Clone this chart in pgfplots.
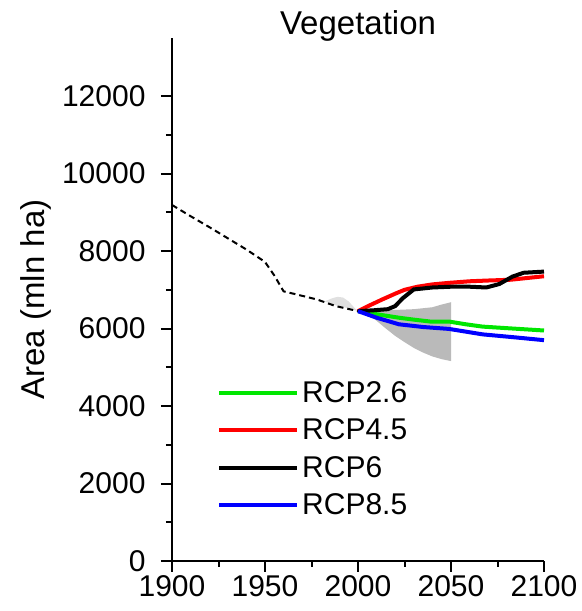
\documentclass[border=0pt]{standalone}
\usepackage{fontspec}
\setmainfont{Liberation Sans}
\usepackage{pgfplots}
\pgfplotsset{compat=1.18}
\begin{document}
\begin{tikzpicture}
\useasboundingbox (0,0) rectangle (582bp,611bp);
\begin{axis}[
  at={(172bp,50bp)}, anchor=south west,
  scale only axis, width=372bp, height=523bp,
  xmin=1900, xmax=2100, ymin=0, ymax=13500,
  axis x line*=bottom, axis y line*=left,
  axis line style={line width=2.5bp},
  tick align=outside,
  major tick length=11bp, minor tick length=6bp,
  every tick/.style={black, line width=2bp},
  xtick={1900,1950,2000,2050,2100},
  ytick={0,2000,4000,6000,8000,10000,12000},
  minor x tick num=1, minor y tick num=1,
  scaled ticks=false,
  /pgf/number format/assume math mode=true,
  /pgf/number format/1000 sep={},
  tick label style={font=\fontsize{30bp}{36bp}\selectfont},
  yticklabel style={xshift=-12bp},
  title={Vegetation},
  title style={at={(axis description cs:0.5,1)}, anchor=base, yshift=-2bp, font=\fontsize{33bp}{40bp}\selectfont},
  ylabel={Area (mln ha)},
  ylabel style={at={(axis description cs:-0.3656,0.5)}, anchor=center, font=\fontsize{33bp}{40bp}\selectfont},
  legend cell align=left,
  legend image code/.code={\draw[#1, line width=4bp] (0bp,0bp) -- (78bp,0bp);},
  legend style={draw=none, fill=none, inner sep=0pt, at={(axis cs:1924.2,4636)}, anchor=north west,
    font=\fontsize{30bp}{36bp}\selectfont, row sep=15bp,
    nodes={inner xsep=3bp, inner ysep=0bp}},
]
% projection uncertainty band
\addplot[fill=black!27, draw=none, forget plot] coordinates {
 (2000,6450) (2010,6470) (2020,6480) (2030,6500) (2040,6550) (2045,6620) (2050,6680)
 (2050,5160) (2045,5210) (2040,5280) (2035,5380) (2030,5500) (2025,5650) (2020,5810)
 (2015,6000) (2010,6200) (2005,6400) (2000,6450)} -- cycle;
% historical uncertainty
\addplot[fill=black!12, draw=none, forget plot] coordinates {
 (1982,6700) (1986,6780) (1989,6820) (1992,6800) (1995,6700) (1998,6540) (2000,6450)
 (1995,6520) (1988,6600) (1982,6700)} -- cycle;
% historical
\addplot[black, line width=2bp, dash pattern=on 6bp off 4bp, forget plot] coordinates {
 (1900,9190) (1910,8900) (1920,8620) (1930,8330) (1940,8040) (1950,7720) (1955,7370)
 (1960,6960) (1967,6880) (1978,6750) (1988,6580) (2000,6450)};
\addplot[color={rgb,255:red,0;green,230;blue,0}, line width=4bp] coordinates {
 (2000,6450) (2010,6370) (2022,6280) (2030,6230) (2039,6180) (2049,6180) (2058,6110)
 (2067,6050) (2080,6010) (2100,5950)};
\addlegendentry{RCP2.6}
\addplot[color=red, line width=4bp] coordinates {
 (2000,6450) (2005,6570) (2013,6750) (2020,6900) (2025,7000) (2032,7080) (2040,7140)
 (2049,7180) (2060,7220) (2070,7240) (2082,7260) (2090,7300) (2100,7350)};
\addlegendentry{RCP4.5}
\addplot[color=black, line width=4bp] coordinates {
 (2000,6450) (2008,6470) (2016,6500) (2020,6580) (2024,6780) (2030,7010) (2040,7060)
 (2050,7080) (2060,7080) (2069,7060) (2076,7150) (2083,7340) (2089,7440) (2100,7470)};
\addlegendentry{RCP6}
\addplot[color=blue, line width=4bp] coordinates {
 (2000,6450) (2010,6280) (2022,6110) (2035,6040) (2049,5990) (2067,5850) (2085,5770)
 (2100,5700)};
\addlegendentry{RCP8.5}
\end{axis}
\end{tikzpicture}
\end{document}
